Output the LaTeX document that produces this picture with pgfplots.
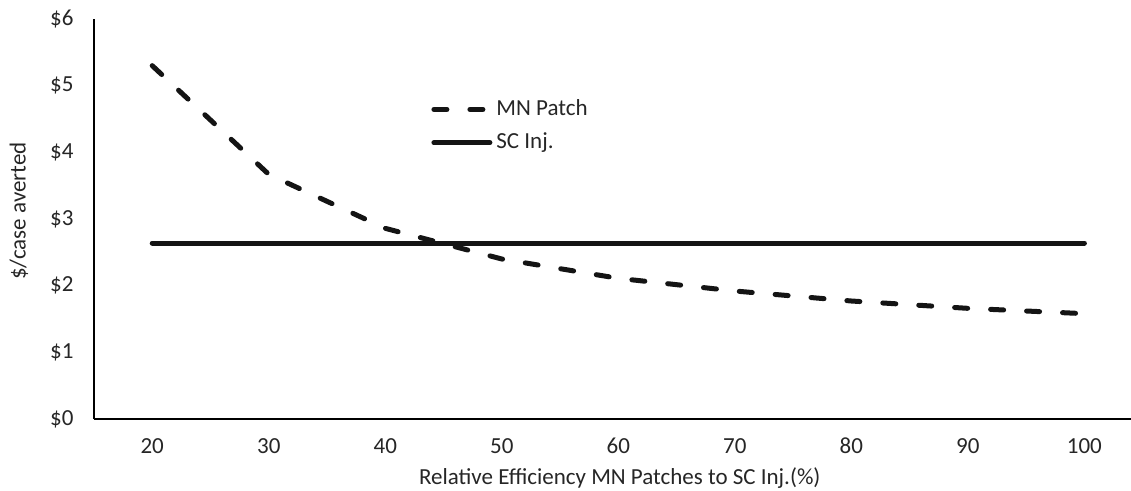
\documentclass[border=0pt]{standalone}
\usepackage{fontspec}
\setmainfont{Carlito}
\usepackage{pgfplots}
\pgfplotsset{compat=1.18}

\begin{document}
\fontsize{11.5}{13.8}\selectfont
\begin{tikzpicture}
  \begin{axis}[
    scale only axis,
    width=518.5pt, height=200pt,
    xmin=15, xmax=104, ymin=0, ymax=6,
    axis x line=bottom, axis y line=left,
    axis line style={-, line width=1pt, black},
    major tick length=0pt,
    xtick={20,30,...,100},
    ytick={0,1,...,6},
    yticklabels={\$0,\$1,\$2,\$3,\$4,\$5,\$6},
    /pgf/number format/assume math mode=true,
    ticklabel style={font=\fontsize{11.5}{13.8}\selectfont, text=black!85},
    xticklabel style={anchor=north, text height=7.3pt, text depth=0pt, yshift=-5.7pt},
    yticklabel style={xshift=-6.2pt},
    xlabel={Relative Efficiency MN Patches to SC Inj.(\%)},
    ylabel={\$/case averted},
    label style={font=\fontsize{11.5}{13.8}\selectfont, text=black!85},
    xlabel style={at={(rel axis cs:0.507,-0.1475)}, anchor=center},
    ylabel style={at={(rel axis cs:-0.0723,0.52)}, anchor=center},
    clip=false,
    legend style={draw=none, fill=none, inner sep=0pt,
      at={(rel axis cs:0.325,0.7325)}, anchor=west,
      font=\fontsize{11.5}{13.8}\selectfont, text=black!85,
      row sep=3pt},
    legend cell align=left,
    legend image code/.code={\draw[#1] (0pt,0pt) -- (28pt,0pt);},
  ]
    \addplot[black!92, line width=2.5pt, line cap=round, line join=round,
      dash pattern=on 6.5pt off 11.5pt]
      coordinates {(20,5.30) (30,3.67) (40,2.86) (50,2.40) (60,2.11)
                   (70,1.92) (80,1.77) (90,1.66) (100,1.58)};
    \addlegendentry{MN Patch}
    \addplot[black!92, line width=2.5pt, line cap=round]
      coordinates {(20,2.64) (30,2.64) (40,2.64) (50,2.64) (60,2.64)
                   (70,2.64) (80,2.64) (90,2.64) (100,2.64)};
    \addlegendentry{SC Inj.}
    \coordinate (bl) at (rel axis cs:-0.0906,-0.1775);
    \coordinate (tr) at (rel axis cs:1,1.0475);
  \end{axis}
  \pgfresetboundingbox
  \path[use as bounding box] (bl) rectangle (tr);
\end{tikzpicture}
\end{document}
